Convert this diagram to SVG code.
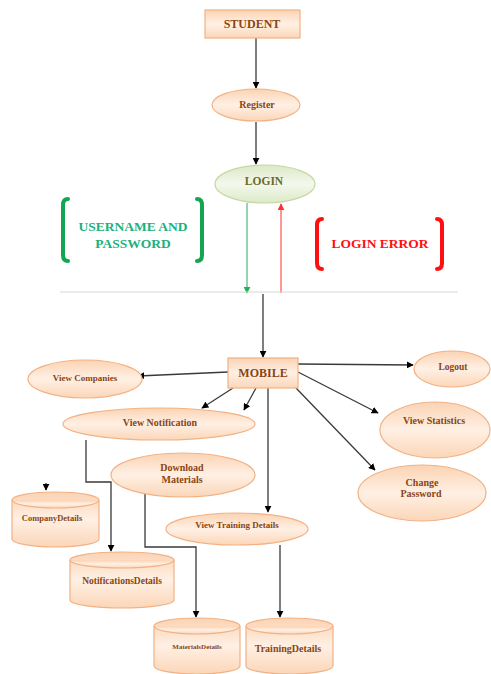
<svg xmlns="http://www.w3.org/2000/svg" width="491" height="674" viewBox="0 0 491 674">
<defs>
<linearGradient id="peach" x1="0" y1="0" x2="0" y2="1">
<stop offset="0" stop-color="#fbd3b3"/>
<stop offset="0.5" stop-color="#fff0e4"/>
<stop offset="1" stop-color="#fbd6b8"/>
</linearGradient>
<linearGradient id="green" x1="0" y1="0" x2="0" y2="1">
<stop offset="0" stop-color="#dbe8c6"/>
<stop offset="0.5" stop-color="#f4f8ec"/>
<stop offset="1" stop-color="#dce9c8"/>
</linearGradient>
<marker id="ah" viewBox="0 0 10 10" refX="9" refY="5" markerWidth="7" markerHeight="7" orient="auto" markerUnits="userSpaceOnUse">
<path d="M0,0 L10,5 L0,10 z" fill="#000"/>
</marker>
<marker id="ahg" viewBox="0 0 10 10" refX="9" refY="5" markerWidth="7" markerHeight="7" orient="auto" markerUnits="userSpaceOnUse">
<path d="M0,0 L10,5 L0,10 z" fill="#22b05a"/>
</marker>
<marker id="ahr" viewBox="0 0 10 10" refX="9" refY="5" markerWidth="7" markerHeight="7" orient="auto" markerUnits="userSpaceOnUse">
<path d="M0,0 L10,5 L0,10 z" fill="#ff3030"/>
</marker>
</defs>
<style>
.n{fill:url(#peach);stroke:#f1b285;stroke-width:1.2}
.g{fill:url(#green);stroke:#c6d8a4;stroke-width:1.2}
.t{font-family:"Liberation Serif",serif;font-weight:bold;fill:#8a4512;text-anchor:middle}
.c{fill:none;stroke:#3a3a3a;stroke-width:1.3}
.br{fill:none;stroke-width:4;stroke-linecap:round}
</style>
<rect width="491" height="674" fill="#fff"/>

<g id="connectors">
<line class="c" x1="256" y1="38" x2="256" y2="88" marker-end="url(#ah)"/>
<line class="c" x1="256" y1="122" x2="256" y2="164" marker-end="url(#ah)"/>
<line x1="247" y1="203" x2="247" y2="293" stroke="#22b05a" stroke-width="1" marker-end="url(#ahg)"/>
<line x1="281" y1="293" x2="281" y2="204" stroke="#ff6060" stroke-width="1.3" marker-end="url(#ahr)"/>
<line x1="60" y1="292" x2="458" y2="292" stroke="#d8d8d8" stroke-width="1"/>
<line class="c" x1="263" y1="294" x2="263" y2="357" marker-end="url(#ah)"/>
<line class="c" x1="298" y1="364" x2="413" y2="365" marker-end="url(#ah)"/>
<line class="c" x1="298" y1="372" x2="378" y2="413" marker-end="url(#ah)"/>
<line class="c" x1="296" y1="388" x2="375" y2="470" marker-end="url(#ah)"/>
<line class="c" x1="228" y1="372" x2="138" y2="376" marker-end="url(#ah)"/>
<line class="c" x1="233" y1="388" x2="202" y2="408" marker-end="url(#ah)"/>
<line class="c" x1="256" y1="388" x2="244" y2="410" marker-end="url(#ah)"/>
<line class="c" x1="268" y1="388" x2="268" y2="512" marker-end="url(#ah)"/>
<polyline class="c" points="86,440 86,482 111,482 111,551" marker-end="url(#ah)"/>
<polyline class="c" points="145,490 145,547 196,547 196,617" marker-end="url(#ah)"/>
<line class="c" x1="280" y1="545" x2="280" y2="617" marker-end="url(#ah)"/>
<line class="c" x1="46" y1="483" x2="46" y2="490" marker-end="url(#ah)"/>
</g>

<g id="student">
<rect class="n" x="205" y="10" width="95" height="28"/>
<text class="t" x="252" y="28" font-size="12">STUDENT</text>
</g>
<g id="register">
<ellipse class="n" cx="256" cy="105" rx="44" ry="16"/>
<text class="t" x="257" y="108" font-size="10">Register</text>
</g>
<g id="login">
<ellipse class="g" cx="265" cy="184" rx="50" ry="19"/>
<text x="264" y="185" font-size="11.5" font-family="Liberation Serif, serif" font-weight="bold" fill="#6b6b2a" text-anchor="middle">LOGIN</text>
</g>
<g id="username">
<path class="br" stroke="#14a550" d="M68,199 Q63,199 63,205 L63,255 Q63,261 68,261"/>
<path class="br" stroke="#14a550" d="M197,199 Q202,199 202,205 L202,255 Q202,261 197,261"/>
<text x="133" y="231" font-size="13.5" font-family="Liberation Serif, serif" font-weight="bold" fill="#22b07a" text-anchor="middle">USERNAME AND</text>
<text x="133" y="248" font-size="13.5" font-family="Liberation Serif, serif" font-weight="bold" fill="#22b07a" text-anchor="middle">PASSWORD</text>
</g>
<g id="loginerror">
<path class="br" stroke="#ff1010" d="M322,219 Q317,219 317,225 L317,263 Q317,269 322,269"/>
<path class="br" stroke="#ff1010" d="M437,219 Q442,219 442,225 L442,263 Q442,269 437,269"/>
<text x="380" y="248" font-size="13.5" font-family="Liberation Serif, serif" font-weight="bold" fill="#ff1010" text-anchor="middle">LOGIN ERROR</text>
</g>
<g id="mobile">
<rect class="n" x="228" y="358" width="70" height="30"/>
<text class="t" x="263" y="377" font-size="12">MOBILE</text>
</g>
<g id="logout">
<ellipse class="n" cx="452" cy="369" rx="38" ry="18"/>
<text class="t" x="453" y="370" font-size="9.5">Logout</text>
</g>
<g id="viewcompanies">
<ellipse class="n" cx="85" cy="379" rx="57" ry="19"/>
<text class="t" x="85" y="381" font-size="9">View Companies</text>
</g>
<g id="viewnotification">
<ellipse class="n" cx="159" cy="424" rx="96" ry="16"/>
<text class="t" x="160" y="426" font-size="10">View Notification</text>
</g>
<g id="viewstatistics">
<ellipse class="n" cx="435" cy="430" rx="55" ry="28"/>
<text class="t" x="434" y="424" font-size="10">View Statistics</text>
</g>
<g id="changepassword">
<ellipse class="n" cx="422" cy="493" rx="64" ry="28"/>
<text class="t" x="422" y="486" font-size="10">Change</text>
<text class="t" x="421" y="497" font-size="10">Password</text>
</g>
<g id="downloadmaterials">
<ellipse class="n" cx="183" cy="475" rx="72" ry="22"/>
<text class="t" x="182" y="471" font-size="10">Download</text>
<text class="t" x="182" y="483" font-size="10">Materials</text>
</g>
<g id="viewtraining">
<ellipse class="n" cx="237" cy="529" rx="71" ry="16"/>
<text class="t" x="237" y="528" font-size="9">View Training Details</text>
</g>
<g id="companydetails">
<path class="n" d="M12,500 A43.5,8 0 0 1 99,500 L99,539 A43.5,8 0 0 1 12,539 Z"/>
<path class="n" d="M12,500 A43.5,8 0 0 0 99,500" fill="none"/>
<text class="t" x="52" y="521" font-size="8.5">CompanyDetails</text>
</g>
<g id="notificationsdetails">
<path class="n" d="M70,560 A52,8 0 0 1 174,560 L174,600 A52,8 0 0 1 70,600 Z"/>
<path class="n" d="M70,560 A52,8 0 0 0 174,560" fill="none"/>
<text class="t" x="122" y="584" font-size="9.5">NotificationsDetails</text>
</g>
<g id="materialsdetails">
<path class="n" d="M154,626 A43,8 0 0 1 240,626 L240,666 A43,8 0 0 1 154,666 Z"/>
<path class="n" d="M154,626 A43,8 0 0 0 240,626" fill="none"/>
<text class="t" x="197" y="649" font-size="7">MaterialsDetails</text>
</g>
<g id="trainingdetails">
<path class="n" d="M246,626 A43.5,8 0 0 1 333,626 L333,666 A43.5,8 0 0 1 246,666 Z"/>
<path class="n" d="M246,626 A43.5,8 0 0 0 333,626" fill="none"/>
<text class="t" x="288" y="652" font-size="10">TrainingDetails</text>
</g>
</svg>
